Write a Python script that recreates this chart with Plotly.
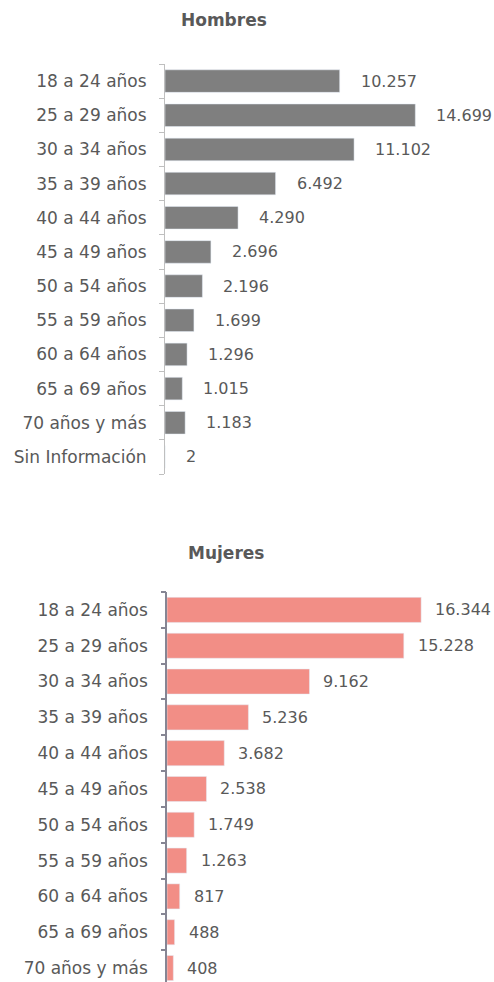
import plotly.graph_objects as go
from plotly.subplots import make_subplots

# Datos: beneficiarios por tramo de edad
edades_h = ["18 a 24 años", "25 a 29 años", "30 a 34 años", "35 a 39 años",
            "40 a 44 años", "45 a 49 años", "50 a 54 años", "55 a 59 años",
            "60 a 64 años", "65 a 69 años", "70 años y más", "Sin Información"]
hombres = [10257, 14699, 11102, 6492, 4290, 2696, 2196, 1699, 1296, 1015, 1183, 2]

edades_m = ["18 a 24 años", "25 a 29 años", "30 a 34 años", "35 a 39 años",
            "40 a 44 años", "45 a 49 años", "50 a 54 años", "55 a 59 años",
            "60 a 64 años", "65 a 69 años", "70 años y más"]
mujeres = [16344, 15228, 9162, 5236, 3682, 2538, 1749, 1263, 817, 488, 408]

FONT = "DejaVu Sans"
GRIS = "#595959"
H = 982


def py(p):
    # pixel desde arriba -> coordenada paper
    return 1 - p / H


def fmt(v):
    return f"{v:,}".replace(",", ".")


fig = make_subplots(rows=2, cols=1)

fig.add_trace(go.Bar(x=hombres, y=list(range(len(edades_h))), orientation="h",
                     marker_color="#7f7f7f", width=0.66, hoverinfo="skip"), row=1, col=1)
fig.add_trace(go.Bar(x=mujeres, y=list(range(len(edades_m))), orientation="h",
                     marker_color="#f28e86", width=0.70, hoverinfo="skip"), row=2, col=1)

for i, v in enumerate(hombres):
    fig.add_annotation(x=v, y=i, xref="x", yref="y", text=fmt(v), showarrow=False,
                       xanchor="left", xshift=19, font=dict(size=16, color=GRIS, family=FONT))
for i, v in enumerate(mujeres):
    fig.add_annotation(x=v, y=i, xref="x2", yref="y2", text=fmt(v), showarrow=False,
                       xanchor="left", xshift=12, font=dict(size=16, color=GRIS, family=FONT))

fig.add_annotation(x=224 / 494, y=py(20), xref="paper", yref="paper", text="<b>Hombres</b>",
                   showarrow=False, yanchor="middle",
                   font=dict(size=17, color=GRIS, family=FONT))
fig.add_annotation(x=226 / 494, y=py(553), xref="paper", yref="paper", text="<b>Mujeres</b>",
                   showarrow=False, yanchor="middle",
                   font=dict(size=17, color=GRIS, family=FONT))

fig.update_xaxes(visible=False, showgrid=False, zeroline=False)
fig.update_xaxes(domain=[165 / 494, 480 / 494], range=[0, 315 / 0.01703], row=1, col=1)
fig.update_xaxes(domain=[167 / 494, 480 / 494], range=[0, 313 / 0.01555], row=2, col=1)

fig.update_yaxes(tickmode="array", ticks="", showgrid=False,
                 zeroline=False, tickfont=dict(size=17, color=GRIS, family=FONT),
                 ticklabelstandoff=14)
fig.update_yaxes(domain=[py(474), py(64)], range=[11.5, -0.5],
                 tickvals=list(range(len(edades_h))), ticktext=edades_h,
                 showline=True, linecolor="#bfbfbf", linewidth=1,
                 row=1, col=1)
fig.update_yaxes(domain=[0, py(592)], range=[10.39, -0.5],
                 tickvals=list(range(len(edades_m))), ticktext=edades_m,
                 showline=True, linecolor="#868694", linewidth=1.5,
                 row=2, col=1)

fig.update_layout(width=494, height=982, margin=dict(l=0, r=0, t=0, b=0),
                  plot_bgcolor="white", paper_bgcolor="white", showlegend=False,
                  font=dict(family=FONT, color=GRIS))

# marcas en los limites de categoria con un eje superpuesto
fig.update_layout(
    yaxis3=dict(overlaying="y", anchor="x", domain=[py(474), py(64)], range=[11.5, -0.5],
                tickmode="array", tickvals=[i - 0.5 for i in range(len(edades_h) + 1)],
                ticktext=[""] * (len(edades_h) + 1), ticks="outside", ticklen=5,
                tickcolor="#bfbfbf", showgrid=False, zeroline=False, showline=False),
    yaxis4=dict(overlaying="y2", anchor="x2", domain=[0, py(592)], range=[10.39, -0.5],
                tickmode="array", tickvals=[i - 0.5 for i in range(len(edades_m) + 1)],
                ticktext=[""] * (len(edades_m) + 1), ticks="outside", ticklen=5,
                tickcolor="#868694", tickwidth=1.5, showgrid=False, zeroline=False,
                showline=False),
)
fig.add_trace(go.Scatter(x=[None], y=[None], yaxis="y3", xaxis="x", showlegend=False))
fig.add_trace(go.Scatter(x=[None], y=[None], yaxis="y4", xaxis="x2", showlegend=False))

fig.write_html("out.html", config={"displayModeBar": False},
               post_script="document.body.style.margin='0';")
